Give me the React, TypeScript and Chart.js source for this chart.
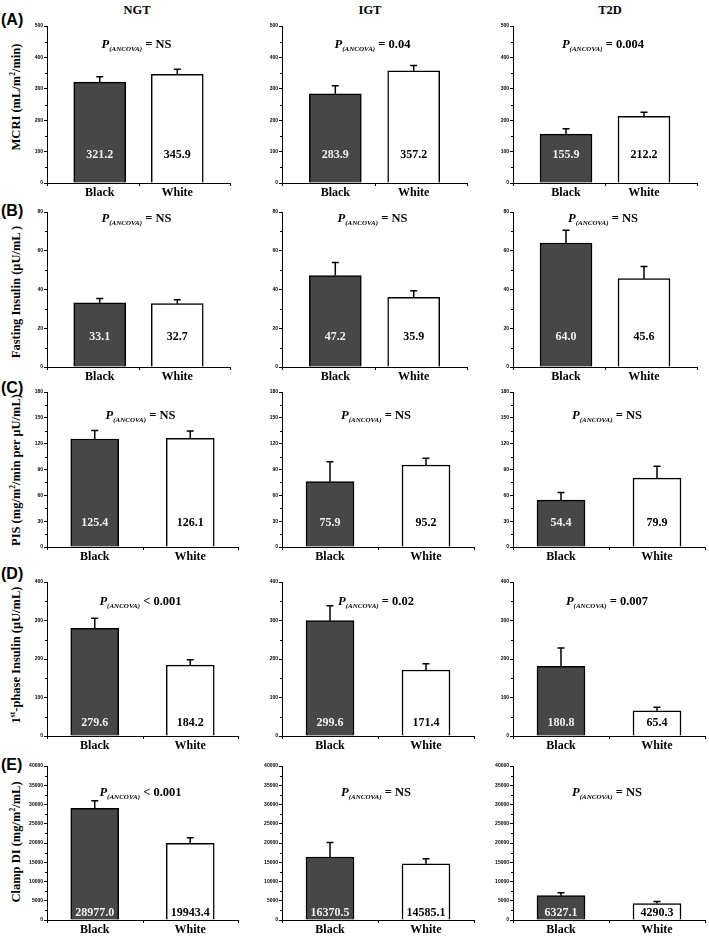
import React, { useEffect, useRef } from "react";
import { Chart, registerables } from "chart.js";

Chart.register(...registerables);

const SERIF = "'Liberation Serif', 'Times New Roman', serif";
const SANS = "'Liberation Sans', Arial, sans-serif";

const groups = ["Black", "White"];
const cohorts = ["NGT", "IGT", "T2D"];
const panelLetters = ["(A)", "(B)", "(C)", "(D)", "(E)"];

// (A) MCRI, mL/m2/min — columns NGT, IGT, T2D
const mcriBlack = [321.2, 283.9, 155.9];
const mcriWhite = [345.9, 357.2, 212.2];
const mcriSemBlack = [17, 26, 17];
const mcriSemWhite = [16, 17, 13];
const mcriP = ["= NS", "= 0.04", "= 0.004"];

// (B) Fasting insulin, μU/mL
const fiBlack = [33.1, 47.2, 64.0];
const fiWhite = [32.7, 35.9, 45.6];
const fiSemBlack = [2.2, 6.8, 6.6];
const fiSemWhite = [2.0, 3.5, 6.3];
const fiP = ["= NS", "= NS", "= NS"];

// (C) PIS, mg/m2/min per μU/mL
const pisBlack = [125.4, 75.9, 54.4];
const pisWhite = [126.1, 95.2, 79.9];
const pisSemBlack = [10, 23, 9];
const pisSemWhite = [8.6, 8, 14];
const pisP = ["= NS", "= NS", "= NS"];

// (D) 1st-phase insulin, μU/mL
const fpBlack = [279.6, 299.6, 180.8];
const fpWhite = [184.2, 171.4, 65.4];
const fpSemBlack = [26, 39, 48];
const fpSemWhite = [14, 16, 9];
const fpP = ["< 0.001", "= 0.02", "= 0.007"];

// (E) Clamp disposition index, mg/m2/mL
const diBlack = [28977.0, 16370.5, 6327.1];
const diWhite = [19943.4, 14585.1, 4290.3];
const diSemBlack = [1970, 3730, 780];
const diSemWhite = [1440, 1310, 520];
const diP = ["< 0.001", "= NS", "= NS"];

// y-axis range and tick spacing per row
const yMax = [500, 80, 180, 400, 40000];
const yStep = [100, 20, 30, 100, 5000];

const rows = [
  { black: mcriBlack, white: mcriWhite, semB: mcriSemBlack, semW: mcriSemWhite, p: mcriP },
  { black: fiBlack, white: fiWhite, semB: fiSemBlack, semW: fiSemWhite, p: fiP },
  { black: pisBlack, white: pisWhite, semB: pisSemBlack, semW: pisSemWhite, p: pisP },
  { black: fpBlack, white: fpWhite, semB: fpSemBlack, semW: fpSemWhite, p: fpP },
  { black: diBlack, white: diWhite, semB: diSemBlack, semW: diSemWhite, p: diP },
];

// page layout (pixels)
const ROW_TOP = [26, 212, 392, 582, 766];
const ROW_BOTTOM = [183, 367, 547, 736, 920];
const AXIS_X = [47, 282, 513];
const AXIS_END_AB = [230, 467, 697];
const AXIS_END_CE = [238, 474, 705];
const X_PAD = [0.68, 0.68, 0.5, 0.5, 0.5];
const BAR_W = [52, 52, 48, 48, 48];
const VALUE_LIFT = [28, 30, 24, 13, 7];
const P_DROP = [18, 6, 23, 19, 26];
const TITLE_Y = [97, 292, 470, 655, 842];
const LETTER_Y = [20, 211, 388, 574, 765];
const HEADER_X = [137, 370, 610];

const Y_AXIS_W = 30;
const X_AXIS_H = 24;
const PAD_TOP = 10;
const PAD_RIGHT = 6;

const supStyle = { fontSize: "0.6em", verticalAlign: "super", lineHeight: 0 } as const;

const yTitles = [
  <>MCRI (mL/m<sup style={supStyle}>2</sup>/min)</>,
  <>Fasting Insulin (μU/mL )</>,
  <>PIS (mg/m<sup style={supStyle}>2</sup>/min per μU/mL)</>,
  <>1<sup style={supStyle}>st</sup>-phase Insulin (μU/mL)</>,
  <>Clamp DI (mg/m<sup style={supStyle}>2</sup>/mL)</>,
];

function drawPText(ctx: CanvasRenderingContext2D, cx: number, cy: number, rest: string) {
  const parts = [
    { t: "P", f: `italic bold 12.5px ${SERIF}`, dy: 0 },
    { t: "(ANCOVA)", f: `italic bold 7px ${SERIF}`, dy: 2.5 },
    { t: " " + rest, f: `bold 12.5px ${SERIF}`, dy: 0 },
  ];
  let total = 0;
  const widths = parts.map((p) => {
    ctx.font = p.f;
    const w = ctx.measureText(p.t).width;
    total += w;
    return w;
  });
  let x = cx - total / 2;
  ctx.fillStyle = "#000";
  ctx.textAlign = "left";
  ctx.textBaseline = "alphabetic";
  parts.forEach((p, i) => {
    ctx.font = p.f;
    ctx.fillText(p.t, x, cy + 4 + p.dy);
    x += widths[i];
  });
}

function BarPanel({ row, col }: { row: number; col: number }) {
  const ref = useRef<HTMLCanvasElement | null>(null);
  const axisX = AXIS_X[col];
  const endX = row < 2 ? AXIS_END_AB[col] : AXIS_END_CE[col];
  const left = axisX - Y_AXIS_W;
  const width = endX - axisX + Y_AXIS_W + PAD_RIGHT;
  const top = ROW_TOP[row] - PAD_TOP;
  const height = ROW_BOTTOM[row] - ROW_TOP[row] + PAD_TOP + X_AXIS_H;

  useEffect(() => {
    const r = rows[row];
    const means = [r.black[col], r.white[col]];
    const sems = [r.semB[col], r.semW[col]];
    const max = yMax[row];
    const step = yStep[row];
    const pad = X_PAD[row];

    const decor = {
      id: "panelDecor",
      afterDraw(chart: any) {
        const { ctx, chartArea: ca, scales } = chart;
        const xs = scales.x;
        const ys = scales.y;
        ctx.save();
        ctx.strokeStyle = "#000";
        ctx.lineWidth = 1;
        ctx.beginPath();
        // minor ticks on the y axis
        for (let v = step / 2; v < max; v += step) {
          const py = Math.round(ys.getPixelForValue(v)) + 0.5;
          ctx.moveTo(ca.left - 2, py);
          ctx.lineTo(ca.left, py);
        }
        // x-axis ticks at both ends and between the groups
        for (const v of [-pad, 0.5, 1 + pad]) {
          const px = Math.round(xs.getPixelForValue(v)) + 0.5;
          ctx.moveTo(px, ca.bottom);
          ctx.lineTo(px, ca.bottom + 3);
        }
        ctx.stroke();

        const meta = chart.getDatasetMeta(0);
        meta.data.forEach((el: any, i: number) => {
          // upper SEM whisker
          const yTop = ys.getPixelForValue(means[i] + sems[i]);
          ctx.lineWidth = 1.5;
          ctx.strokeStyle = "#000";
          ctx.beginPath();
          ctx.moveTo(el.x, el.y);
          ctx.lineTo(el.x, yTop);
          ctx.moveTo(el.x - 3.5, yTop);
          ctx.lineTo(el.x + 3.5, yTop);
          ctx.stroke();
          // mean value inside the bar
          ctx.fillStyle = i === 0 ? "#efefef" : "#000";
          ctx.font = `bold 12px ${SERIF}`;
          ctx.textAlign = "center";
          ctx.textBaseline = "middle";
          ctx.fillText(means[i].toFixed(1), el.x, ca.bottom - VALUE_LIFT[row]);
        });

        drawPText(ctx, (ca.left + ca.right) / 2 - 2, ca.top + P_DROP[row], r.p[col]);
        ctx.restore();
      },
    };

    const chart = new Chart(ref.current as HTMLCanvasElement, {
      type: "bar",
      data: {
        datasets: [
          {
            data: means.map((m, i) => ({ x: i, y: m })),
            backgroundColor: ["#474747", "#ffffff"],
            borderColor: "#000",
            borderWidth: 1.5,
            barThickness: BAR_W[row],
          },
        ],
      },
      options: {
        responsive: false,
        animation: false,
        events: [],
        layout: { padding: { left: 0, top: PAD_TOP, right: PAD_RIGHT, bottom: 0 } },
        plugins: { legend: { display: false }, tooltip: { enabled: false } },
        scales: {
          x: {
            type: "linear",
            offset: false,
            min: -pad,
            max: 1 + pad,
            afterBuildTicks: (s: any) => {
              s.ticks = [{ value: 0 }, { value: 1 }];
            },
            afterFit: (s: any) => {
              s.height = X_AXIS_H;
            },
            grid: { display: false, drawTicks: false },
            border: { display: true, color: "#000", width: 1 },
            ticks: {
              autoSkip: false,
              maxRotation: 0,
              padding: 3,
              color: "#000",
              font: { family: SERIF, size: 12, weight: "bold" },
              callback: (v: any) => groups[v] ?? "",
            },
          },
          y: {
            min: 0,
            max,
            afterFit: (s: any) => {
              s.width = Y_AXIS_W;
            },
            grid: { drawOnChartArea: false, color: "#000", tickLength: 3, lineWidth: 1 },
            border: { display: true, color: "#000", width: 1 },
            ticks: {
              stepSize: step,
              padding: 1,
              color: "#000",
              font: { family: SANS, size: 5, weight: "bold" },
              callback: (v: any) => String(v),
            },
          },
        },
      } as any,
      plugins: [decor],
    });
    return () => chart.destroy();
  }, [row, col]);

  return (
    <canvas
      ref={ref}
      width={width}
      height={height}
      style={{ position: "absolute", left, top, width, height }}
    />
  );
}

export default function App() {
  return (
    <div
      style={{
        position: "absolute",
        left: 0,
        top: 0,
        width: 709,
        height: 942,
        background: "#fff",
        overflow: "hidden",
      }}
    >
      {cohorts.map((c, i) => (
        <div
          key={c}
          style={{
            position: "absolute",
            left: HEADER_X[i],
            top: 10,
            transform: "translate(-50%, -50%)",
            font: `bold 12.5px ${SERIF}`,
            lineHeight: 1,
            whiteSpace: "nowrap",
          }}
        >
          {c}
        </div>
      ))}
      {panelLetters.map((l, i) => (
        <div
          key={l}
          style={{
            position: "absolute",
            left: 1,
            top: LETTER_Y[i],
            transform: "translateY(-50%)",
            font: `bold 16px ${SANS}`,
            lineHeight: 1,
            whiteSpace: "nowrap",
          }}
        >
          {l}
        </div>
      ))}
      {yTitles.map((t, i) => (
        <div
          key={i}
          style={{
            position: "absolute",
            left: 16,
            top: TITLE_Y[i],
            transform: "translate(-50%, -50%) rotate(-90deg)",
            font: `bold 12.5px ${SERIF}`,
            lineHeight: 1,
            whiteSpace: "nowrap",
          }}
        >
          {t}
        </div>
      ))}
      {rows.map((_, r) =>
        cohorts.map((_c, c) => <BarPanel key={`${r}-${c}`} row={r} col={c} />)
      )}
    </div>
  );
}
